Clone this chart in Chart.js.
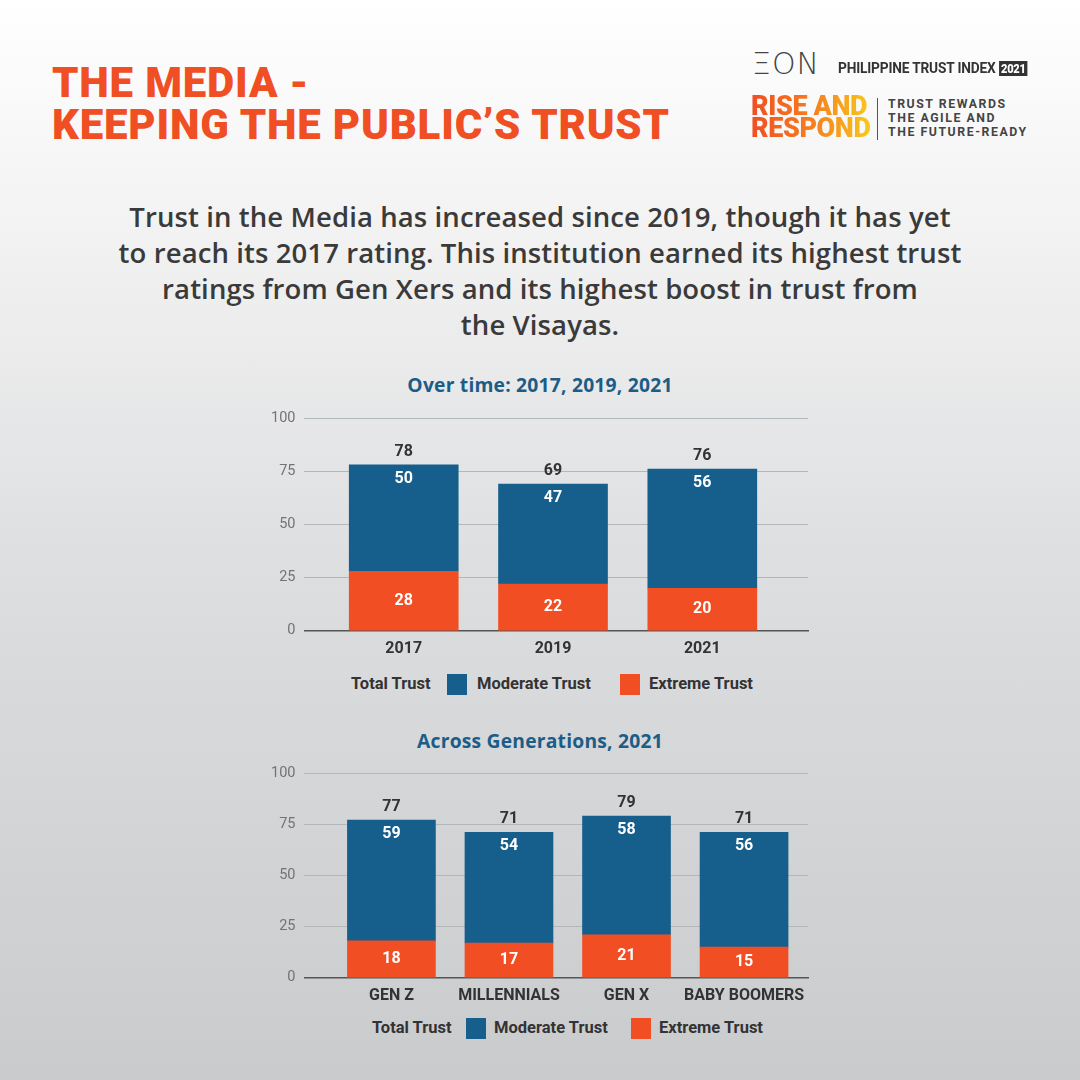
<!DOCTYPE html>
<html>
<head>
<meta charset="utf-8">
<script src="https://cdn.jsdelivr.net/npm/chart.js@4.4.1/dist/chart.umd.min.js"></script>
<style>
  html, body { margin:0; padding:0; }
  body { width:1080px; height:1080px; position:relative; overflow:hidden;
         background: linear-gradient(180deg, #ffffff 0%, #f3f3f3 20%, #dcdddf 55%, #c9cbcd 100%);
         font-family: Roboto, "Open Sans", sans-serif; color:#333; }
  .abs { position:absolute; }
  #title { left:52px; top:62px; font-weight:900; font-size:42px; line-height:42px; color:#f04e23; letter-spacing:0.8px; }
  #para { left:0; width:1080px; top:199px; text-align:center; font-family:"Open Sans", sans-serif; font-size:27.5px; line-height:36px; font-weight:600; color:#3a3a3a; letter-spacing:0.1px; }
  .ctitle { left:0; width:1080px; text-align:center; font-family:"Open Sans", sans-serif; font-weight:700; font-size:19.3px; color:#1c5d88; letter-spacing:0.2px; }
  .legend { font-weight:700; font-size:16.5px; color:#333; height:22px; line-height:22px; }
  .legend span { position:absolute; top:0; white-space:nowrap; }
  .legend i { position:absolute; top:1px; width:20px; height:21px; display:block; }
  /* logo */
  #eon { left:752px; top:46px; font-size:30px; font-weight:200; letter-spacing:1px; color:#444; font-family: "DejaVu Sans", sans-serif; }
  #pti { left:838px; top:59px; font-size:15.5px; font-weight:700; color:#333; font-family: Roboto, sans-serif; letter-spacing:-0.2px; transform:scaleX(0.885); transform-origin:left; white-space:nowrap; }
  #pti b { background:#333; color:#fff; padding:0 2px; margin-left:4px; font-size:12.5px; }
  #rise { left:751px; top:95px; font-size:27px; line-height:22px; font-weight:900; letter-spacing:-0.4px;
          background: linear-gradient(90deg, #f04e23 0%, #f6821f 55%, #f7c91b 100%);
          -webkit-background-clip:text; background-clip:text; color:transparent; }
  #sep { left:877px; top:98px; width:1px; height:42px; background:#555; }
  #rew { left:888px; top:97px; font-size:12.3px; line-height:14px; font-weight:700; color:#444; letter-spacing:1.55px; white-space:nowrap; }
</style>
</head>
<body>
<div id="title" class="abs">THE MEDIA -<br>KEEPING THE PUBLIC’S TRUST</div>

<div id="eon" class="abs">ΞON</div>
<div id="pti" class="abs">PHILIPPINE TRUST INDEX<b>2021</b></div>
<div id="rise" class="abs">RISE AND<br>RESPOND</div>
<div id="sep" class="abs"></div>
<div id="rew" class="abs">TRUST REWARDS<br>THE AGILE AND<br>THE FUTURE-READY</div>

<div id="para" class="abs">Trust in the Media has increased since 2019, though it has yet<br>to reach its 2017 rating. This institution earned its highest trust<br>ratings from Gen Xers and its highest boost in trust from<br>the Visayas.</div>

<div class="abs ctitle" style="top:371px;">Over time: 2017, 2019, 2021</div>
<canvas id="c1" class="abs" style="left:250px; top:400px;" width="580" height="270"></canvas>
<div class="abs legend" style="left:0; top:673px; width:1080px;">
  <span style="left:351px;">Total Trust</span>
  <i style="left:447px; background:#165f8d;"></i><span style="left:477px;">Moderate Trust</span>
  <i style="left:620px; background:#f24e23;"></i><span style="left:649px;">Extreme Trust</span>
</div>

<div class="abs ctitle" style="top:727px;">Across Generations, 2021</div>
<canvas id="c2" class="abs" style="left:250px; top:755px;" width="580" height="262"></canvas>
<div class="abs legend" style="left:0; top:1017px; width:1080px;">
  <span style="left:372px;">Total Trust</span>
  <i style="left:466px; background:#165f8d;"></i><span style="left:494px;">Moderate Trust</span>
  <i style="left:631px; background:#f24e23;"></i><span style="left:659px;">Extreme Trust</span>
</div>

<script>
// ---- data ----
const years = ["2017", "2019", "2021"];
const yearModerate = [50, 47, 56];
const yearExtreme = [28, 22, 20];
const yearTotal = [78, 69, 76];

const generations = ["GEN Z", "MILLENNIALS", "GEN X", "BABY BOOMERS"];
const genModerate = [59, 54, 58, 56];
const genExtreme = [18, 17, 21, 15];
const genTotal = [77, 71, 79, 71];

const yTicks = [0, 25, 50, 75, 100];

const BLUE = '#165f8d', ORANGE = '#f24e23';

const labelPlugin = (totals) => ({
  id: 'stackLabels',
  afterDatasetsDraw(chart) {
    const ctx = chart.ctx;
    const mE = chart.getDatasetMeta(0), mM = chart.getDatasetMeta(1);
    ctx.save();
    ctx.textAlign = 'center';
    ctx.textBaseline = 'middle';
    ctx.font = '700 16px Roboto, sans-serif';
    mE.data.forEach((bar, i) => {
      const ds0 = chart.data.datasets[0].data[i].y;
      const ds1 = chart.data.datasets[1].data[i].y;
      ctx.fillStyle = '#ffffff';
      ctx.fillText(String(ds0), bar.x, (bar.y + bar.base) / 2);
      const mb = mM.data[i];
      ctx.fillText(String(ds1), mb.x, mb.y + 14);
      ctx.fillStyle = '#333333';
      ctx.fillText(String(totals[i]), mb.x, mb.y - 13);
    });
    ctx.restore();
  }
});

function makeChart(id, cats, ext, mod, totals, xmin, xmax, thick) {
  const toPts = arr => arr.map((v, i) => ({ x: i, y: v }));
  return new Chart(document.getElementById(id), {
    type: 'bar',
    data: {
      datasets: [
        { label: 'Extreme Trust', data: toPts(ext), backgroundColor: ORANGE, barThickness: thick },
        { label: 'Moderate Trust', data: toPts(mod), backgroundColor: BLUE, barThickness: thick }
      ]
    },
    options: {
      responsive: false,
      animation: false,
      devicePixelRatio: 1,
      layout: { padding: { left: 12, right: 22, top: 18, bottom: 10 } },
      plugins: { legend: { display: false }, tooltip: { enabled: false } },
      scales: {
        x: {
          type: 'linear', stacked: true, min: xmin, max: xmax, offset: false,
          afterBuildTicks: (axis) => { axis.ticks = cats.map((c, i) => ({ value: i })); },
          ticks: { callback: (v) => cats[v], color: '#333', font: { family: 'Roboto', weight: '700', size: 16 }, padding: 1, maxRotation: 0, autoSkip: false },
          grid: { display: false },
          border: { color: '#555', width: 1.5 }
        },
        y: {
          stacked: true, min: 0, max: 100,
          afterBuildTicks: (axis) => { axis.ticks = yTicks.map(v => ({ value: v })); },
          ticks: { color: '#737373', font: { family: 'Roboto', size: 14.5 }, padding: 9 },
          grid: { color: '#b4b7ba', lineWidth: 1, drawTicks: false },
          border: { display: false }
        }
      }
    },
    plugins: [labelPlugin(totals)]
  });
}

makeChart('c1', years, yearExtreme, yearModerate, yearTotal, -0.665, 2.708, 109);
makeChart('c2', generations, genExtreme, genModerate, genTotal, -0.74, 3.544, 88);
</script>
</body>
</html>
